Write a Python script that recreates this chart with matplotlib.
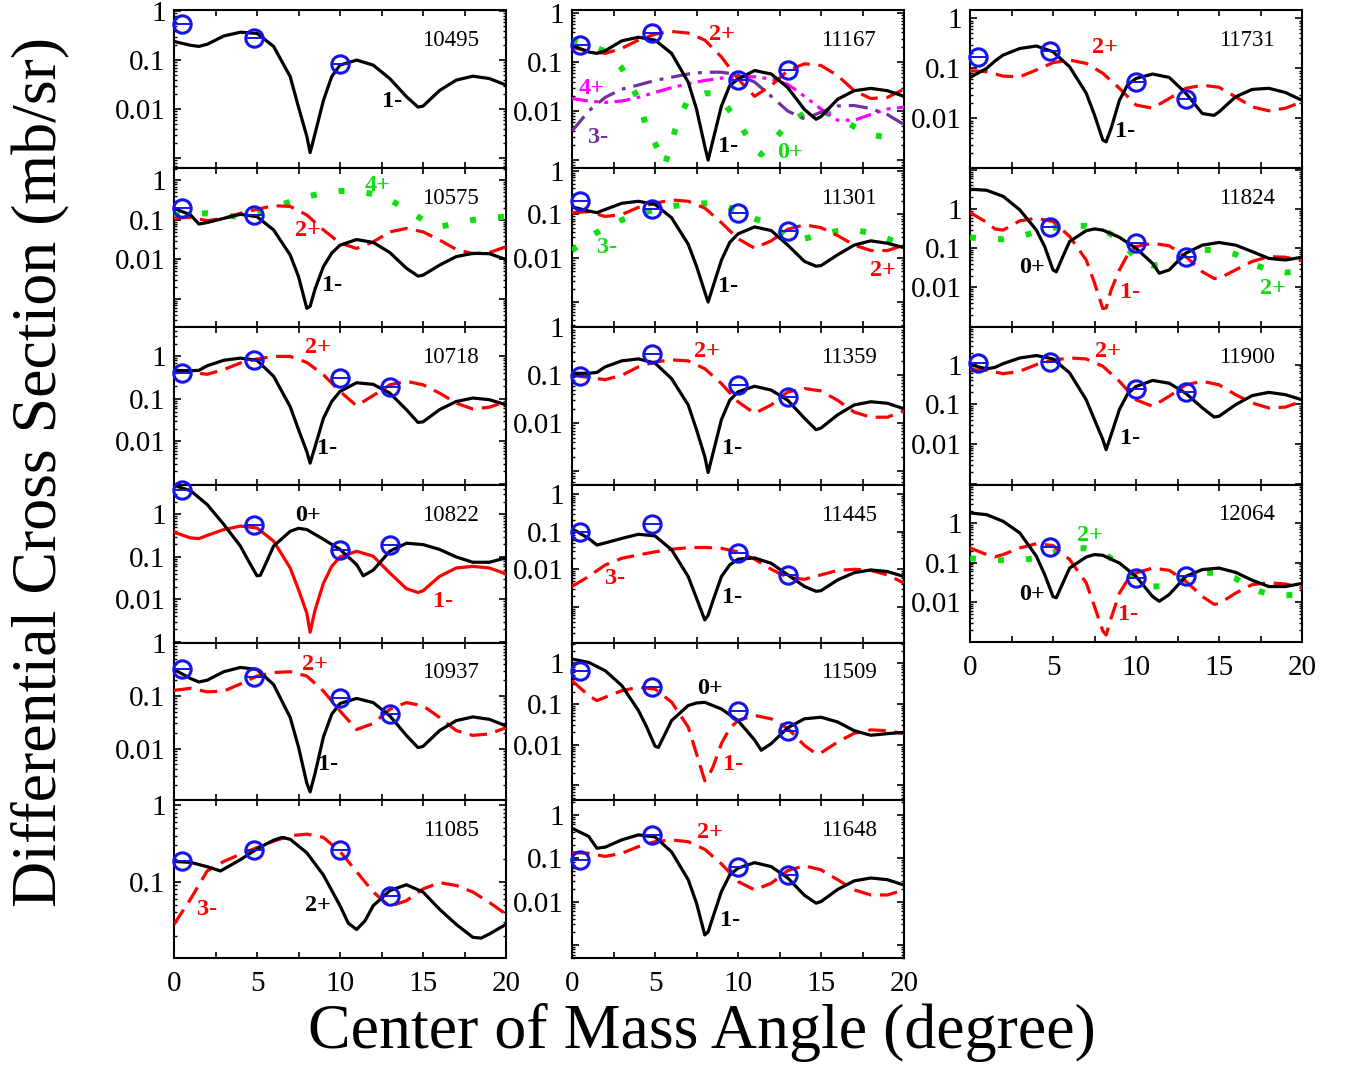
import matplotlib
matplotlib.use("Agg")
import matplotlib.pyplot as plt
import numpy as np
from matplotlib.ticker import FixedLocator, FuncFormatter, LogLocator, NullFormatter

plt.rcParams['font.family'] = ['Liberation Serif', 'DejaVu Serif']

# ---------------- angle grids (degree) ----------------
GRID_1M = [0, 1, 1.5, 2, 3, 4, 5, 6, 7, 7.5, 8, 8.2, 8.5, 9, 9.5, 10, 11, 12, 13, 14, 14.7, 15, 16, 17, 18, 19, 20]
GRID_2P = [0, 1, 2, 3, 4, 5, 6, 7, 8, 9, 10, 11, 12, 13, 14, 15, 16, 17, 18, 19, 20]
GRID_0P = [0, 1, 2, 3, 4, 4.5, 5, 5.2, 5.5, 6, 7, 7.5, 8, 9, 10, 11, 11.4, 12, 13, 14, 15, 16, 17, 18, 19, 20]
GRID_11085 = [0, 1, 2, 2.8, 4, 5, 6, 6.5, 7, 8, 9, 10, 10.5, 11, 11.5, 12, 13, 14, 15, 16, 17, 18, 18.5, 19, 20]
GRID_11167_0P = [0, 1, 2, 3, 4, 4.5, 5, 5.6, 6.2, 7, 8, 8.5, 9, 10, 11, 11.4, 12, 13, 14, 15, 16, 17, 18, 19, 20]
DATA_ANG4 = [0.5, 4.8, 10, 13]
DATA_ANG3 = [0.5, 4.8, 10]
DATA_ANG2 = [0.5, 4.8]
DATA_ANG3B = [4.8, 10, 13]

# ---------------- calculated cross sections (mb/sr) ----------------
xs_10495_1m = [0.24, 0.20, 0.19, 0.21, 0.31, 0.37, 0.35, 0.19, 0.046, 0.011, 0.0028, 0.0013, 0.0032, 0.015, 0.046, 0.079, 0.1, 0.079, 0.042, 0.018, 0.011, 0.0115, 0.024, 0.039, 0.047, 0.042, 0.031]
xs_10575_1m = [0.197, 0.134, 0.079, 0.086, 0.11, 0.139, 0.121, 0.056, 0.013, 0.0037, 0.00058, 0.00065, 0.0018, 0.0066, 0.0144, 0.023, 0.032, 0.027, 0.015, 0.006, 0.0038, 0.004, 0.0072, 0.0118, 0.0143, 0.014, 0.01]
xs_10575_2p = [0.11, 0.117, 0.096, 0.11, 0.148, 0.186, 0.23, 0.22, 0.134, 0.056, 0.026, 0.019, 0.028, 0.05, 0.061, 0.05, 0.031, 0.018, 0.014, 0.015, 0.021]
xs_10575_4p = [0.13, 0.14, 0.148, 0.13, 0.12, 0.15, 0.21, 0.29, 0.39, 0.48, 0.54, 0.55, 0.45, 0.32, 0.19, 0.1, 0.068, 0.08, 0.1, 0.115, 0.12]
xs_10718_1m = [0.47, 0.46, 0.47, 0.60, 0.81, 0.91, 0.81, 0.34, 0.066, 0.019, 0.0058, 0.0031, 0.0076, 0.035, 0.087, 0.15, 0.24, 0.22, 0.137, 0.056, 0.028, 0.029, 0.056, 0.087, 0.105, 0.096, 0.073]
xs_10718_2p = [0.44, 0.42, 0.38, 0.49, 0.70, 0.87, 1.0, 1.0, 0.72, 0.37, 0.15, 0.069, 0.12, 0.215, 0.26, 0.215, 0.137, 0.08, 0.058, 0.064, 0.087]
xs_10822_0p = [4.8, 3.6, 1.7, 0.58, 0.18, 0.079, 0.036, 0.037, 0.066, 0.18, 0.40, 0.47, 0.44, 0.26, 0.15, 0.066, 0.036, 0.049, 0.136, 0.21, 0.195, 0.15, 0.1, 0.075, 0.075, 0.095]
xs_10822_1m = [0.38, 0.28, 0.27, 0.32, 0.44, 0.53, 0.48, 0.235, 0.055, 0.017, 0.0048, 0.0017, 0.0057, 0.024, 0.06, 0.1, 0.136, 0.104, 0.042, 0.018, 0.0146, 0.016, 0.035, 0.055, 0.06, 0.055, 0.04]
xs_10937_1m = [0.32, 0.215, 0.185, 0.2, 0.29, 0.35, 0.32, 0.165, 0.039, 0.0107, 0.0022, 0.0015, 0.0034, 0.0166, 0.045, 0.072, 0.09, 0.075, 0.042, 0.0178, 0.0104, 0.011, 0.022, 0.034, 0.04, 0.036, 0.027]
xs_10937_2p = [0.128, 0.14, 0.12, 0.124, 0.17, 0.24, 0.28, 0.29, 0.24, 0.124, 0.052, 0.023, 0.03, 0.056, 0.075, 0.065, 0.039, 0.022, 0.0178, 0.019, 0.025]
xs_11085_2p = [0.185, 0.18, 0.158, 0.139, 0.195, 0.27, 0.35, 0.38, 0.36, 0.24, 0.123, 0.049, 0.029, 0.024, 0.031, 0.049, 0.077, 0.092, 0.074, 0.044, 0.028, 0.019, 0.0185, 0.021, 0.028]
xs_11085_3m = [0.028, 0.06, 0.139, 0.185, 0.23, 0.28, 0.34, 0.4, 0.42, 0.38, 0.25, 0.136, 0.074, 0.048, 0.057, 0.081, 0.098, 0.09, 0.074, 0.054, 0.038]
xs_11167_1m = [0.22, 0.16, 0.15, 0.17, 0.27, 0.32, 0.28, 0.15, 0.039, 0.011, 0.0019, 0.001, 0.0026, 0.0126, 0.033, 0.045, 0.067, 0.057, 0.03, 0.0108, 0.0068, 0.0077, 0.0174, 0.026, 0.029, 0.026, 0.02]
xs_11167_2p = [0.2, 0.166, 0.15, 0.19, 0.28, 0.37, 0.42, 0.39, 0.28, 0.127, 0.045, 0.02, 0.033, 0.067, 0.092, 0.085, 0.053, 0.026, 0.018, 0.019, 0.028]
xs_11167_3m = [0.0039, 0.01, 0.019, 0.028, 0.034, 0.042, 0.049, 0.057, 0.062, 0.062, 0.055, 0.039, 0.02, 0.01, 0.0069, 0.0095, 0.0127, 0.013, 0.0112, 0.0085, 0.0053]
xs_11167_4p = [0.018, 0.016, 0.015, 0.016, 0.019, 0.024, 0.03, 0.036, 0.042, 0.047, 0.05, 0.05, 0.045, 0.035, 0.02, 0.011, 0.0065, 0.0065, 0.0085, 0.011, 0.012]
xs_11167_0p = [0.28, 0.22, 0.166, 0.075, 0.0174, 0.0045, 0.0022, 0.0008, 0.004, 0.018, 0.023, 0.023, 0.017, 0.0062, 0.0017, 0.0013, 0.0022, 0.0055, 0.009, 0.01, 0.0075, 0.0048, 0.0033, 0.0029, 0.0027]
xs_11301_1m = [0.15, 0.12, 0.11, 0.13, 0.18, 0.2, 0.17, 0.084, 0.021, 0.0066, 0.0017, 0.001, 0.0023, 0.009, 0.023, 0.036, 0.052, 0.043, 0.02, 0.0085, 0.0066, 0.0068, 0.012, 0.02, 0.025, 0.022, 0.0175]
xs_11301_2p = [0.11, 0.115, 0.09, 0.1, 0.145, 0.18, 0.215, 0.2, 0.14, 0.065, 0.028, 0.017, 0.025, 0.046, 0.058, 0.05, 0.033, 0.02, 0.015, 0.015, 0.02]
xs_11301_3m = [0.015, 0.03, 0.05, 0.075, 0.1, 0.13, 0.155, 0.17, 0.18, 0.17, 0.12, 0.08, 0.06, 0.03, 0.028, 0.035, 0.042, 0.044, 0.038, 0.028, 0.02]
xs_11359_1m = [0.11, 0.11, 0.115, 0.15, 0.2, 0.22, 0.18, 0.085, 0.024, 0.0073, 0.002, 0.00093, 0.0024, 0.0118, 0.03, 0.045, 0.059, 0.049, 0.03, 0.0127, 0.0073, 0.0079, 0.0149, 0.024, 0.028, 0.026, 0.02]
xs_11359_2p = [0.1, 0.09, 0.081, 0.1, 0.15, 0.19, 0.21, 0.2, 0.137, 0.067, 0.028, 0.016, 0.024, 0.045, 0.053, 0.047, 0.03, 0.017, 0.0133, 0.0133, 0.018]
xs_11445_1m = [0.12, 0.066, 0.044, 0.05, 0.066, 0.085, 0.077, 0.033, 0.0064, 0.0017, 0.00045, 0.0006, 0.0015, 0.0064, 0.013, 0.0185, 0.02, 0.0144, 0.0071, 0.0035, 0.0026, 0.0027, 0.0052, 0.0081, 0.0096, 0.0087, 0.0064]
xs_11445_3m = [0.0035, 0.0064, 0.013, 0.0196, 0.024, 0.029, 0.034, 0.0375, 0.038, 0.036, 0.029, 0.0185, 0.01, 0.0061, 0.0054, 0.0071, 0.0093, 0.01, 0.0093, 0.0071, 0.0043]
xs_11509_0p = [1.25, 1.04, 0.65, 0.28, 0.069, 0.027, 0.0092, 0.0085, 0.015, 0.039, 0.091, 0.105, 0.109, 0.075, 0.039, 0.013, 0.0073, 0.0106, 0.026, 0.043, 0.047, 0.036, 0.022, 0.017, 0.0186, 0.02]
xs_11509_1m = [0.37, 0.16, 0.12, 0.145, 0.21, 0.255, 0.23, 0.11, 0.027, 0.006, 0.0013, 0.0016, 0.0029, 0.0106, 0.025, 0.039, 0.052, 0.043, 0.025, 0.0096, 0.006, 0.0063, 0.0116, 0.019, 0.023, 0.022, 0.0186]
xs_11648_1m = [0.49, 0.32, 0.17, 0.18, 0.265, 0.345, 0.31, 0.14, 0.032, 0.0092, 0.0017, 0.002, 0.0045, 0.017, 0.041, 0.059, 0.079, 0.064, 0.035, 0.014, 0.0092, 0.01, 0.019, 0.03, 0.035, 0.032, 0.024]
xs_11648_2p = [0.135, 0.13, 0.11, 0.13, 0.185, 0.24, 0.265, 0.24, 0.16, 0.074, 0.029, 0.0186, 0.0265, 0.052, 0.067, 0.054, 0.032, 0.0186, 0.0142, 0.0142, 0.0186]
xs_11731_1m = [0.066, 0.1, 0.14, 0.185, 0.25, 0.28, 0.215, 0.108, 0.032, 0.0117, 0.0037, 0.0034, 0.0063, 0.023, 0.047, 0.063, 0.077, 0.066, 0.032, 0.0125, 0.0115, 0.0135, 0.027, 0.038, 0.04, 0.033, 0.023]
xs_11731_2p = [0.09, 0.086, 0.07, 0.068, 0.093, 0.13, 0.147, 0.126, 0.08, 0.04, 0.0185, 0.016, 0.025, 0.04, 0.046, 0.042, 0.027, 0.017, 0.0142, 0.016, 0.0215]
xs_11824_0p = [3.2, 3.0, 2.1, 0.95, 0.29, 0.11, 0.028, 0.025, 0.05, 0.148, 0.28, 0.31, 0.29, 0.19, 0.1, 0.041, 0.023, 0.028, 0.075, 0.12, 0.14, 0.12, 0.082, 0.055, 0.05, 0.059]
xs_11824_1m = [0.81, 0.46, 0.31, 0.29, 0.5, 0.58, 0.48, 0.2, 0.05, 0.013, 0.0029, 0.003, 0.0086, 0.028, 0.068, 0.11, 0.134, 0.115, 0.061, 0.025, 0.017, 0.017, 0.028, 0.046, 0.061, 0.059, 0.048]
xs_11824_2p = [0.19, 0.17, 0.17, 0.2, 0.26, 0.33, 0.38, 0.37, 0.3, 0.17, 0.055, 0.036, 0.042, 0.07, 0.09, 0.09, 0.07, 0.04, 0.028, 0.024, 0.026]
xs_11900_1m = [1.0, 0.78, 0.85, 1.06, 1.47, 1.69, 1.39, 0.62, 0.13, 0.041, 0.013, 0.0072, 0.017, 0.074, 0.186, 0.28, 0.4, 0.34, 0.19, 0.081, 0.048, 0.05, 0.098, 0.166, 0.2, 0.175, 0.13]
xs_11900_2p = [0.75, 0.72, 0.59, 0.68, 1.0, 1.29, 1.47, 1.39, 0.91, 0.38, 0.13, 0.089, 0.16, 0.31, 0.38, 0.31, 0.175, 0.108, 0.081, 0.085, 0.12]
xs_12064_0p = [1.79, 1.62, 1.1, 0.56, 0.145, 0.05, 0.014, 0.013, 0.025, 0.073, 0.139, 0.16, 0.153, 0.098, 0.045, 0.014, 0.0106, 0.0157, 0.045, 0.067, 0.073, 0.057, 0.036, 0.025, 0.025, 0.03]
xs_12064_1m = [0.235, 0.16, 0.14, 0.16, 0.235, 0.3, 0.27, 0.12, 0.031, 0.0079, 0.0019, 0.0015, 0.004, 0.017, 0.037, 0.055, 0.073, 0.064, 0.034, 0.014, 0.0089, 0.0093, 0.017, 0.028, 0.031, 0.029, 0.023]
xs_12064_2p = [0.13, 0.115, 0.115, 0.115, 0.13, 0.18, 0.23, 0.23, 0.18, 0.09, 0.04, 0.025, 0.026, 0.04, 0.055, 0.056, 0.04, 0.022, 0.016, 0.015, 0.016]

# ---------------- measured data ----------------
exp_10495 = [0.54, 0.28, 0.085]
exp_10575 = [0.2, 0.134]
exp_10718 = [0.41, 0.81, 0.31, 0.19]
exp_10822 = [3.8, 0.56, 0.144, 0.19]
exp_10937 = [0.32, 0.23, 0.093, 0.045]
exp_11085 = [0.185, 0.26, 0.26, 0.065]
exp_11167 = [0.22, 0.39, 0.042, 0.07]
exp_11301 = [0.2, 0.136, 0.11, 0.043]
exp_11359 = [0.095, 0.28, 0.062, 0.035]
exp_11445 = [0.1, 0.16, 0.027, 0.0071]
exp_11509 = [0.65, 0.26, 0.066, 0.0215]
exp_11648 = [0.092, 0.345, 0.062, 0.041]
exp_11731 = [0.17, 0.22, 0.054, 0.024]
exp_11824 = [0.34, 0.134, 0.061]
exp_11900 = [1.1, 1.14, 0.24, 0.21]
exp_12064 = [0.245, 0.041, 0.047]

# ---------------- styles ----------------
RED = '#FF0000'
GREEN = '#11DD11'
PURPLE = '#7030A0'
MAGENTA = '#FF00FF'
BLUE = '#1414F0'
STY = {
    'k': dict(color='black', lw=2.3, ls='-'),
    'r': dict(color=RED, lw=2.3, ls='-'),
    'rd': dict(color=RED, lw=2.3, ls=(0, (5.5, 2.7))),
    'g': dict(color=GREEN, lw=4.3, ls=(0, (1, 3.7)), dash_capstyle='butt'),
    'pu': dict(color=PURPLE, lw=2.3, ls=(0, (6, 2.5, 1.2, 2.5))),
    'mg': dict(color=MAGENTA, lw=2.3, ls=(0, (5, 2, 1.2, 2, 1.2, 2))),
}

# panel layout: (col, row, name, ylim, curves, data angles, data, labels)
PANELS = [
    (0, 0, '10495', (6.3e-4, 1.05), [(GRID_1M, xs_10495_1m, 'k')], DATA_ANG3, exp_10495,
     [('1-', 'black', 0.657, 0.418)]),
    (0, 1, '10575', (1.95e-4, 2.07), [(GRID_2P, xs_10575_4p, 'g'), (GRID_2P, xs_10575_2p, 'rd'), (GRID_1M, xs_10575_1m, 'k')], DATA_ANG2, exp_10575,
     [('4+', GREEN, 0.614, 0.893), ('2+', RED, 0.404, 0.61), ('1-', 'black', 0.476, 0.264)]),
    (0, 2, '10718', (9.5e-4, 4.9), [(GRID_2P, xs_10718_2p, 'rd'), (GRID_1M, xs_10718_1m, 'k')], DATA_ANG4, exp_10718,
     [('2+', RED, 0.434, 0.873), ('1-', 'black', 0.461, 0.234)]),
    (0, 3, '10822', (9.5e-4, 4.9), [(GRID_1M, xs_10822_1m, 'r'), (GRID_0P, xs_10822_0p, 'k')], DATA_ANG4, exp_10822,
     [('0+', 'black', 0.404, 0.81), ('1-', RED, 0.81, 0.26)]),
    (0, 4, '10937', (1.05e-3, 1.02), [(GRID_2P, xs_10937_2p, 'rd'), (GRID_1M, xs_10937_1m, 'k')], DATA_ANG4, exp_10937,
     [('2+', RED, 0.425, 0.86), ('1-', 'black', 0.464, 0.223)]),
    (0, 5, '11085', (0.0102, 1.17), [(GRID_2P, xs_11085_3m, 'rd'), (GRID_11085, xs_11085_2p, 'k')], DATA_ANG4, exp_11085,
     [('3-', RED, 0.099, 0.304), ('2+', 'black', 0.434, 0.335)]),
    (1, 0, '11167', (6.9e-4, 1.15), [(GRID_11167_0P, xs_11167_0p, 'g'), (GRID_2P, xs_11167_4p, 'mg'), (GRID_2P, xs_11167_3m, 'pu'),
                                     (GRID_2P, xs_11167_2p, 'rd'), (GRID_1M, xs_11167_1m, 'k')], DATA_ANG4, exp_11167,
     [('2+', RED, 0.452, 0.842), ('4+', MAGENTA, 0.06, 0.506), ('3-', PURPLE, 0.078, 0.196),
      ('1-', 'black', 0.47, 0.133), ('0+', GREEN, 0.657, 0.095)]),
    (1, 1, '11301', (2.7e-4, 1.15), [(GRID_2P, xs_11301_3m, 'g'), (GRID_2P, xs_11301_2p, 'rd'), (GRID_1M, xs_11301_1m, 'k')], DATA_ANG4, exp_11301,
     [('3-', GREEN, 0.105, 0.497), ('1-', 'black', 0.47, 0.252), ('2+', RED, 0.937, 0.358)]),
    (1, 2, '11359', (5.1e-4, 1.02), [(GRID_2P, xs_11359_2p, 'rd'), (GRID_1M, xs_11359_1m, 'k')], DATA_ANG4, exp_11359,
     [('2+', RED, 0.407, 0.842), ('1-', 'black', 0.482, 0.234)]),
    (1, 3, '11445', (1.1e-4, 1.73), [(GRID_2P, xs_11445_3m, 'rd'), (GRID_1M, xs_11445_1m, 'k')], DATA_ANG4, exp_11445,
     [('3-', RED, 0.13, 0.411), ('1-', 'black', 0.482, 0.285)]),
    (1, 4, '11509', (4.4e-4, 3.1), [(GRID_1M, xs_11509_1m, 'rd'), (GRID_0P, xs_11509_0p, 'k')], DATA_ANG4, exp_11509,
     [('0+', 'black', 0.416, 0.713), ('1-', RED, 0.485, 0.223)]),
    (1, 5, '11648', (5e-4, 2.2), [(GRID_2P, xs_11648_2p, 'rd'), (GRID_1M, xs_11648_1m, 'k')], DATA_ANG4, exp_11648,
     [('2+', RED, 0.416, 0.797), ('1-', 'black', 0.476, 0.24)]),
    (2, 0, '11731', (1.02e-3, 1.47), [(GRID_2P, xs_11731_2p, 'rd'), (GRID_1M, xs_11731_1m, 'k')], DATA_ANG4, exp_11731,
     [('2+', RED, 0.407, 0.76), ('1-', 'black', 0.467, 0.228)]),
    (2, 1, '11824', (9.8e-4, 11.1), [(GRID_2P, xs_11824_2p, 'g'), (GRID_1M, xs_11824_1m, 'rd'), (GRID_0P, xs_11824_0p, 'k')], DATA_ANG3B, exp_11824,
     [('0+', 'black', 0.187, 0.377), ('1-', RED, 0.482, 0.214), ('2+', GREEN, 0.913, 0.245)]),
    (2, 2, '11900', (9.3e-4, 8.85), [(GRID_2P, xs_11900_2p, 'rd'), (GRID_1M, xs_11900_1m, 'k')], DATA_ANG4, exp_11900,
     [('2+', RED, 0.416, 0.842), ('1-', 'black', 0.482, 0.297)]),
    (2, 3, '12064', (1e-3, 9.06), [(GRID_2P, xs_12064_2p, 'g'), (GRID_1M, xs_12064_1m, 'rd'), (GRID_0P, xs_12064_0p, 'k')], DATA_ANG3B, exp_12064,
     [('2+', GREEN, 0.361, 0.68), ('0+', 'black', 0.187, 0.3), ('1-', RED, 0.476, 0.172)]),
]

W, H = 1348, 1072
COL_LEFT = [174, 572, 970]
COL_W = 332
ROWS_12 = [10, 168, 327, 485, 643, 800, 958]
ROWS_3 = [10, 168, 327, 485, 642]
LAST_ROW = {0: 5, 1: 5, 2: 3}

fig = plt.figure(figsize=(W / 100, H / 100), dpi=100)


def ylab(v, pos):
    if np.isclose(v, 1):
        return '1'
    if np.isclose(v, 0.1):
        return '0.1'
    if np.isclose(v, 0.01):
        return '0.01'
    return ''


for col, row, name, ylim, curves, dang, dval, labels in PANELS:
    rows = ROWS_3 if col == 2 else ROWS_12
    top, bot = rows[row], rows[row + 1]
    ax = fig.add_axes([COL_LEFT[col] / W, 1 - bot / H, COL_W / W, (bot - top) / H])
    ax.set_yscale('log')
    for xg, yv, st in curves:
        ax.plot(xg, yv, **STY[st], zorder=3)
    ax.plot(dang, dval, 'o', ms=12.5, mfc='none', mec=BLUE, mew=2.2, clip_on=False, zorder=6)
    ax.plot(dang, dval, '_', ms=11, mec=BLUE, mew=1.4, clip_on=False, zorder=6)
    ax.set_xlim(0, 20)
    ax.set_ylim(*ylim)
    ax.set_xticks(np.arange(0, 20.01, 2.5))
    if row == LAST_ROW[col]:
        ax.set_xticklabels(['0', '', '5', '', '10', '', '15', '', '20'])
    else:
        ax.set_xticklabels([''] * 9)
    ax.yaxis.set_major_locator(FixedLocator([1e-4, 1e-3, 1e-2, 1e-1, 1, 10]))
    ax.yaxis.set_major_formatter(FuncFormatter(ylab))
    ax.yaxis.set_minor_locator(LogLocator(base=10, subs=np.arange(2, 10), numticks=20))
    ax.yaxis.set_minor_formatter(NullFormatter())
    ax.tick_params(which='both', direction='in', top=True, right=True)
    ax.tick_params(which='major', length=5, width=1.2, labelsize=21, pad=6)
    ax.tick_params(axis='x', which='major', length=4.5, pad=9.5)
    ax.tick_params(which='minor', length=2.5, width=1.0)
    for sp in ax.spines.values():
        sp.set_linewidth(1.5)
    ax.text(0.834, 0.81, name, transform=ax.transAxes, fontsize=16.5,
            ha='center', va='center')
    for txt, c, fx, fy in labels:
        ax.text(fx, fy, txt, transform=ax.transAxes, fontsize=17.5, fontweight='bold',
                color=c, ha='center', va='center', zorder=7)

fig.text(702 / W, 1 - 1033 / H, 'Center of Mass Angle (degree)', fontsize=46,
         ha='center', va='center')
fig.text(40 / W, 1 - 472 / H, 'Differential Cross Section (mb/sr)', fontsize=46,
         rotation=90, ha='center', va='center')

fig.savefig('out.png', dpi=100)
